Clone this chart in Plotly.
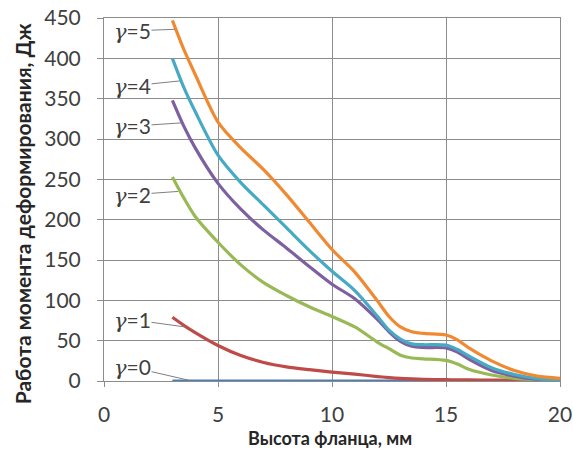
import plotly.graph_objects as go

# Flange height, mm
x_vals = [3, 3.5, 4, 5, 6, 7, 8, 9, 10, 11, 12, 12.5, 13, 13.5, 14, 15, 15.5, 16, 17, 18, 19, 20]

# Deformation moment work, J (for each gamma)
g0 = [0] * 22
g1 = [79, 69, 60, 44, 31.5, 23, 17.5, 14, 11, 8.5, 5.5, 4.2, 3.2, 2.6, 2.2, 1.6, 1.4, 1.3, 1.1, 1, 1, 1]
g2 = [253, 227, 204, 172, 144, 122, 106, 92, 80, 67, 48, 40, 32, 28.5, 27.5, 25.5, 21, 14.5, 7.4, 3.3, 1.6, 0.8]
g3 = [348, 316, 289, 245, 213, 187, 165, 142, 120, 102, 76, 61, 49, 43, 41.5, 41, 36, 27, 13, 6, 2, 1]
g4 = [400, 364, 334, 280, 246, 218, 190, 162, 136, 112, 80, 63, 52, 46, 45, 44.5, 39, 31, 16.5, 8, 3, 1]
g5 = [447, 411, 380, 321, 289, 262, 231, 197, 163, 135, 99, 80, 67, 61, 59, 57, 51, 41, 25, 13, 6, 3.3]

series = [g0, g1, g2, g3, g4, g5]
names = ["γ=0", "γ=1", "γ=2", "γ=3", "γ=4", "γ=5"]
colors = ["#4A7EBB", "#BE4B48", "#98B954", "#7D60A0", "#46AAC5", "#F08A32"]

# label anchor points (text position and leader end) in data units
label_y = [17, 76, 231, 316, 366, 434]
leader_x = [3.77, 3.55, 3.25, 3.42, 3.33, 3.11]
leader_y = [0.6, 67, 235, 320, 372, 436]
label_x = 1.25

x_ticks = [0, 5, 10, 15, 20]
y_ticks = [0, 50, 100, 150, 200, 250, 300, 350, 400, 450]

fig = go.Figure()
for s, n, c in zip(series, names, colors):
    fig.add_trace(go.Scatter(x=x_vals, y=s, name=n, mode="lines", hoverinfo="skip",
                             line=dict(color=c, width=3.2, shape="spline", smoothing=0.8)))

for i, n in enumerate(names):
    k = n.split("=")[1]
    fig.add_annotation(
        x=leader_x[i], y=leader_y[i], xref="x", yref="y",
        ax=label_x, ay=label_y[i], axref="x", ayref="y",
        text="<span style='font-family:DejaVu Serif;font-size:21px'><i>γ</i></span>=" + k,
        showarrow=True, arrowhead=0, arrowwidth=1, arrowcolor="#7F7F7F",
        font=dict(family="Lato", size=21, color="#404040"),
        standoff=0, startstandoff=0, borderpad=0,
    )

fig.add_annotation(text="<b>Высота фланца, мм</b>", xref="paper", yref="paper",
                   x=0.496, y=-0.158, showarrow=False, xanchor="center", yanchor="middle",
                   font=dict(family="Lato", size=18, color="#262626"))
fig.add_annotation(text="<b>Работа момента деформирования, Дж</b>", xref="paper", yref="paper",
                   x=-0.18, y=0.462, showarrow=False, xanchor="center", yanchor="middle",
                   textangle=-90, font=dict(family="Lato", size=21, color="#262626"))

fig.update_layout(
    width=573, height=452,
    margin=dict(l=104, r=13, t=18, b=71, autoexpand=False),
    paper_bgcolor="white", plot_bgcolor="white",
    showlegend=False,
    font=dict(family="Lato", color="#404040"),
)
fig.update_xaxes(
    range=[0, 20], tickvals=x_ticks, showgrid=True, gridcolor="#8C8C8C", gridwidth=1,
    zeroline=False, showline=True, mirror=True, linecolor="#8C8C8C", linewidth=1,
    ticks="outside", ticklen=5, tickcolor="#8C8C8C",
    tickfont=dict(family="Lato", size=21, color="#404040"), ticklabelstandoff=10,
    automargin=False,
)
fig.update_yaxes(
    range=[0, 450], tickvals=y_ticks, showgrid=True, gridcolor="#8C8C8C", gridwidth=1,
    zeroline=False, showline=True, mirror=True, linecolor="#8C8C8C", linewidth=1,
    ticks="outside", ticklen=6, tickcolor="#8C8C8C",
    tickfont=dict(family="Lato", size=21, color="#404040"), ticklabelstandoff=12,
    automargin=False,
)

fig.write_html("out.html", config={"displayModeBar": False},
               post_script="document.body.style.margin='0';")
